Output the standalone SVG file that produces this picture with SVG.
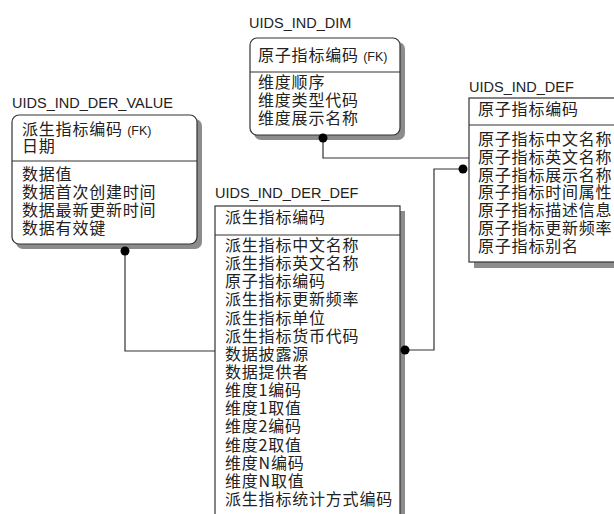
<svg xmlns="http://www.w3.org/2000/svg" width="614" height="514" viewBox="0 0 614 514">
<style>
.title{font-family:"Liberation Sans",Arial,sans-serif;font-size:14.5px;fill:#222}
.t{font-family:"Noto Sans CJK SC","Liberation Sans",sans-serif;font-size:16px;letter-spacing:0.8px;fill:#222}
.fk{font-family:"Liberation Sans",Arial,sans-serif;font-size:12.5px;letter-spacing:0}
.box{fill:#fff;stroke:#333;stroke-width:1.2}
.shadow{fill:#8c8c8c}
.div{stroke:#333;stroke-width:1.2}
.conn{fill:none;stroke:#333;stroke-width:1.2}
.dot{fill:#000}
</style>
<rect width="614" height="514" fill="#fff"/>

<g id="UIDS_IND_DER_VALUE">
<text class="title" x="12" y="108">UIDS_IND_DER_VALUE</text>
<rect class="shadow" x="16" y="119" width="186" height="130" rx="7"/>
<rect class="box" x="12" y="115" width="185" height="129" rx="7"/>
<line class="div" x1="12" y1="161" x2="197" y2="161"/>
<text class="t" x="22" y="135">派生指标编码 <tspan class="fk">(FK)</tspan></text>
<text class="t" x="22" y="152">日期</text>
<text class="t" x="22" y="180">数据值</text>
<text class="t" x="22" y="198">数据首次创建时间</text>
<text class="t" x="22" y="216">数据最新更新时间</text>
<text class="t" x="22" y="234">数据有效键</text>
</g>

<g id="UIDS_IND_DIM">
<text class="title" x="249" y="28">UIDS_IND_DIM</text>
<rect class="shadow" x="254" y="42" width="151" height="98" rx="7"/>
<rect class="box" x="250" y="38" width="150" height="97" rx="7"/>
<line class="div" x1="250" y1="72" x2="400" y2="72"/>
<text class="t" x="258" y="61">原子指标编码 <tspan class="fk">(FK)</tspan></text>
<text class="t" x="258" y="88">维度顺序</text>
<text class="t" x="258" y="106">维度类型代码</text>
<text class="t" x="258" y="124">维度展示名称</text>
</g>

<g id="UIDS_IND_DEF">
<text class="title" x="469" y="92">UIDS_IND_DEF</text>
<rect class="shadow" x="474" y="103" width="160" height="165"/>
<rect class="box" x="469" y="98" width="160" height="164"/>
<line class="div" x1="469" y1="125" x2="614" y2="125"/>
<text class="t" x="478" y="115">原子指标编码</text>
<text class="t" x="478" y="145">原子指标中文名称</text>
<text class="t" x="478" y="162.8">原子指标英文名称</text>
<text class="t" x="478" y="180.6">原子指标展示名称</text>
<text class="t" x="478" y="198.4">原子指标时间属性</text>
<text class="t" x="478" y="216.2">原子指标描述信息</text>
<text class="t" x="478" y="234">原子指标更新频率</text>
<text class="t" x="478" y="251.8">原子指标别名</text>
</g>

<g id="UIDS_IND_DER_DEF">
<text class="title" x="215" y="198">UIDS_IND_DER_DEF</text>
<rect class="shadow" x="220" y="211" width="185" height="320"/>
<rect class="box" x="215" y="206" width="185" height="320"/>
<line class="div" x1="215" y1="235" x2="400" y2="235"/>
<text class="t" x="225" y="223">派生指标编码</text>
<text class="t" x="225" y="251">派生指标中文名称</text>
<text class="t" x="225" y="269.1">派生指标英文名称</text>
<text class="t" x="225" y="287.3">原子指标编码</text>
<text class="t" x="225" y="305.4">派生指标更新频率</text>
<text class="t" x="225" y="323.6">派生指标单位</text>
<text class="t" x="225" y="341.7">派生指标货币代码</text>
<text class="t" x="225" y="359.8">数据披露源</text>
<text class="t" x="225" y="378">数据提供者</text>
<text class="t" x="225" y="396.1">维度1编码</text>
<text class="t" x="225" y="414.3">维度1取值</text>
<text class="t" x="225" y="432.4">维度2编码</text>
<text class="t" x="225" y="450.5">维度2取值</text>
<text class="t" x="225" y="468.7">维度N编码</text>
<text class="t" x="225" y="486.8">维度N取值</text>
<text class="t" x="225" y="505">派生指标统计方式编码</text>
</g>

<g id="connectors">
<polyline class="conn" points="323,140 323,158 469,158"/>
<polyline class="conn" points="463,169 434,169 434,350 406,350"/>
<polyline class="conn" points="125,251 125,351 215,351"/>
<circle class="dot" cx="323" cy="138" r="4.5"/>
<circle class="dot" cx="463" cy="169" r="4.5"/>
<circle class="dot" cx="405" cy="350" r="4.5"/>
<circle class="dot" cx="125" cy="251" r="4.5"/>
</g>
</svg>
